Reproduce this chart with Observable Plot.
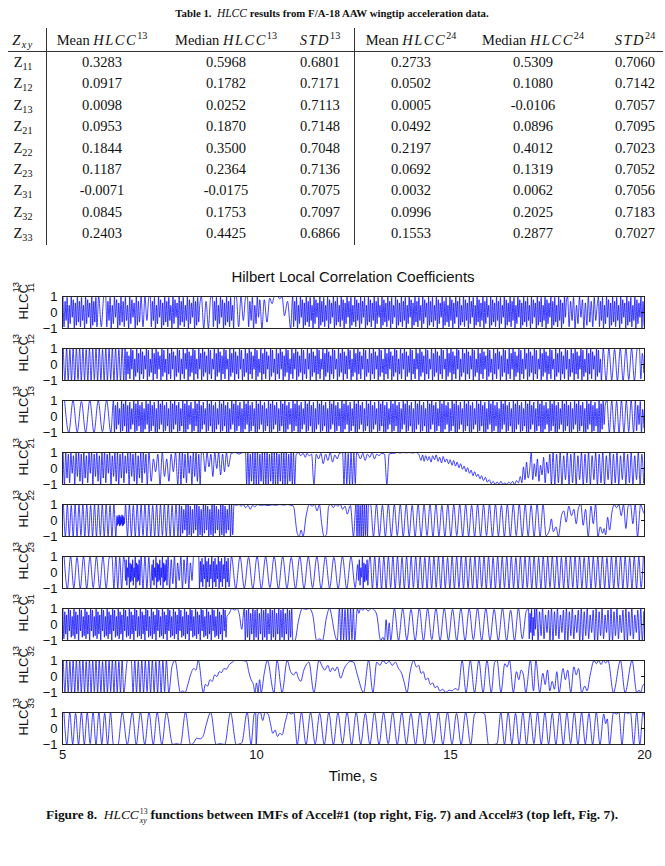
<!DOCTYPE html>
<html>
<head>
<meta charset="utf-8">
<script src="https://cdn.jsdelivr.net/npm/d3@7"></script>
<script src="https://cdn.jsdelivr.net/npm/@observablehq/plot@0.6"></script>
<style>
  body { margin: 0; background: #fff; }
  #page { position: relative; width: 665px; height: 866px; overflow: hidden; background: #fff; color: #111; font-family: "Liberation Serif", "Times New Roman", serif; }
  .abs { position: absolute; white-space: nowrap; }
  .c { transform: translate(-50%, -50%); }
  .cell { font-size: 14.5px; }
  .cell i { letter-spacing: 1.5px; }
  .rule { position: absolute; background: #333; }
  sup, sub { font-size: 70%; line-height: 0; letter-spacing: 0; }
  .cap { font-weight: bold; }
  .cap i { font-weight: normal; }
  .ss { display: inline-flex; flex-direction: column; vertical-align: middle; font-size: 0.58em; line-height: 1.2em; font-weight: normal; margin: 0 3px 0 1px; }
  .sans { font-family: "Liberation Sans", Arial, sans-serif; }
  #chart { position: absolute; left: 0; top: 262px; }
</style>
</head>
<body>
<div id="page">
  <div class="abs c cap" style="left:332px;top:13px;font-size:10.8px">Table 1.&nbsp; <i style="font-size:11.5px">HLCC</i> results from F/A-18 AAW wingtip acceleration data.</div>
  <div class="abs c sans" style="left:353px;top:276px;font-size:15px">Hilbert Local Correlation Coefficients</div>
  <div id="chart"></div>
  <div class="abs c sans" style="left:353px;top:775px;font-size:15px">Time, s</div>
  <div class="abs c cap" style="left:332px;top:816px;font-size:13.4px">Figure 8.&nbsp; <i>HLCC</i><span class="ss"><span>13</span><span><i>xy</i></span></span>functions between IMFs of Accel#1 (top right, Fig. 7) and Accel#3 (top left, Fig. 7).</div>
</div>
<script>
// ---- Table 1 values ----
const rowLabels = ["11", "12", "13", "21", "22", "23", "31", "32", "33"];
const mean13   = [0.3283, 0.0917, 0.0098, 0.0953, 0.1844, 0.1187, -0.0071, 0.0845, 0.2403];
const median13 = [0.5968, 0.1782, 0.0252, 0.1870, 0.3500, 0.2364, -0.0175, 0.1753, 0.4425];
const std13    = [0.6801, 0.7171, 0.7113, 0.7148, 0.7048, 0.7136, 0.7075, 0.7097, 0.6866];
const mean24   = [0.2733, 0.0502, 0.0005, 0.0492, 0.2197, 0.0692, 0.0032, 0.0996, 0.1553];
const median24 = [0.5309, 0.1080, -0.0106, 0.0896, 0.4012, 0.1319, 0.0062, 0.2025, 0.2877];
const std24    = [0.7060, 0.7142, 0.7057, 0.7095, 0.7023, 0.7052, 0.7056, 0.7183, 0.7027];
const headers = ["<i>Z</i><sub><i>xy</i></sub>", "Mean <i>HLCC</i><sup>13</sup>", "Median <i>HLCC</i><sup>13</sup>",
                 "<i>STD</i><sup>13</sup>", "Mean <i>HLCC</i><sup>24</sup>", "Median <i>HLCC</i><sup>24</sup>", "<i>STD</i><sup>24</sup>"];

// ---- HLCC^13 series ----
// Each panel is a list of pieces, in time order:
//   [t0, t1, swings per second, peak levels, trough levels]  – a stretch of oscillation
//   [[t, v], ...]                                            – individual turning points
const hiFull = [1, 1, 0.95, 1, 0.98];
const loFull = [-1, -0.97, -1, -1, -0.95];
const hiMix = [1, 0.7, 0.95, 0.45, 1, 0.8, 0.6];
const loMix = [-0.9, -0.5, -1, -0.7, -0.3, -1, -0.8, -0.6];
const hiBlob = [0.5, 0.8, 0.3, 1, 0.6];
const loBlob = [-0.5, -0.8, -0.3, -1, -0.6];

const hlcc11 = [
  [5.00, 5.90, 19, hiMix, loMix],
  [5.90, 6.10, 7, hiFull, loMix],
  [6.10, 7.00, 18, hiMix, loMix],
  [7.00, 7.25, 9, hiFull, loMix],
  [7.25, 8.55, 19, hiMix, loMix],
  [8.55, 8.85, 9, hiMix, loFull],
  [8.85, 9.45, 19, hiMix, loMix],
  [9.45, 9.75, 8, hiFull, loMix],
  [9.75, 10.10, 16, hiMix, loMix],
  [[10.14, -1], [10.2, 0.8], [10.27, -0.6], [10.34, 0.9], [10.4, 0.55], [10.46, 1], [10.55, 1], [10.6, 0.85], [10.66, 1], [10.72, -0.2], [10.8, 0.7], [10.88, -1]],
  [10.92, 18.0, 20, hiMix, loMix],
  [18.0, 18.8, 13, hiMix, loMix],
  [18.8, 20.0, 19, hiMix, loMix]
];
const hlcc12 = [
  [5.00, 6.60, 12, hiFull, loFull],
  [6.60, 18.90, 20, [1, 0.8, 0.55, 1, 0.9, 0.35, 1, 0.7], [-1, -0.6, -0.9, -0.3, -1, -0.75, -0.5]],
  [18.90, 19.85, 7, hiFull, loFull],
  [19.85, 20.0, 14, hiMix, loMix]
];
const hlcc13 = [
  [5.00, 6.30, 4.5, hiFull, loFull],
  [6.30, 19.00, 19, [1, 0.7, 0.9, 0.5, 1, 0.8], [-1, -0.8, -0.5, -1, -0.9, -0.6, -1]],
  [19.00, 19.75, 8, hiFull, loFull],
  [19.75, 20.0, 16, hiMix, loMix]
];
const hlcc21 = [
  [5.00, 7.20, 15, [1, 1, 0.9, 1, 0.8], [-1, -0.6, -0.9, -0.3, -1, -0.5, -0.8]],
  [7.20, 8.00, 9, [1, 0.6, 0.9], [-0.8, -0.2, -1, -0.5]],
  [8.00, 8.60, 14, [1, 1, 0.9, 1, 0.8], [-1, -0.6, -0.9, -0.3, -1, -0.5, -0.8]],
  [8.60, 9.30, 10, [1, 1, 0.9], [-0.2, 0.1, -0.5, 0, -0.4]],
  [[9.35, 0.95], [9.45, 1], [9.55, 0.9], [9.65, 1]],
  [9.70, 11.00, 16, [1, 1, 0.9, 1], [-1, -1, -0.8, -1]],
  [[11.02, 0.85], [11.08, 1], [11.14, 0.8], [11.2, 0.95], [11.26, 0.7], [11.3, 0.95], [11.36, 0.8], [11.42, 0.9], [11.48, -1], [11.54, 0.9], [11.6, 0.6], [11.66, 0.95], [11.72, 0.3], [11.78, 0.9], [11.84, 0.5], [11.9, 1], [11.96, 0.4], [12.02, 0.85], [12.08, 0.6], [12.14, 0.95]],
  [12.20, 12.60, 14, hiFull, loFull],
  [[12.62, 0.9], [12.68, 0.6], [12.74, 0.95], [12.8, 0.5], [12.86, 0.9], [12.92, 0.7], [12.98, 1], [13.04, 0.6], [13.1, 0.9], [13.16, 0.8], [13.22, 0.95], [13.3, 0.9], [13.36, -1], [13.42, 0.9], [13.5, 0.95],
   [13.55, 0.95], [13.62, 1], [13.7, 0.97], [13.78, 1], [13.86, 0.98], [13.94, 1], [14.02, 0.97], [14.1, 1], [14.18, 0.9],
   [14.24, 0.5], [14.28, 0.85], [14.32, 0.45], [14.36, 0.8], [14.41, 0.5], [14.45, 0.75], [14.5, 0.4], [14.54, 0.8], [14.59, 0.55], [14.63, 0.85], [14.68, 0.45], [14.72, 0.7], [14.77, 0.35], [14.81, 0.75], [14.86, 0.4], [14.9, 0.6], [14.95, 0.3], [14.99, 0.55], [15.04, 0.2], [15.08, 0.5],
   [15.13, 0.15], [15.17, 0.4], [15.22, 0.05], [15.26, 0.3], [15.31, -0.05], [15.35, 0.15], [15.4, -0.2], [15.44, 0.05], [15.49, -0.3], [15.53, -0.1], [15.58, -0.45], [15.62, -0.2], [15.67, -0.5], [15.71, -0.35], [15.76, -0.65], [15.8, -0.45], [15.85, -0.75], [15.9, -0.55],
   [15.95, -0.85], [16.0, -0.7], [16.05, -0.95], [16.1, -0.8], [16.15, -1], [16.2, -0.85], [16.25, -0.95], [16.3, -0.8], [16.35, -1], [16.4, -0.9], [16.45, -1], [16.5, -0.85], [16.55, -0.95], [16.6, -0.8], [16.65, -1], [16.7, -0.75], [16.75, -0.9],
   [16.8, -0.5], [16.84, -0.9], [16.88, 0.1], [16.92, -0.7], [16.96, 0.4], [17.0, -0.6], [17.04, -0.1], [17.08, 1], [17.12, -0.7], [17.16, 0.3], [17.2, -0.5], [17.24, 0.6], [17.28, -0.8], [17.32, 0.2], [17.36, -0.4], [17.4, 0.7], [17.44, -0.9], [17.48, 0.4], [17.52, -0.3], [17.56, 0.9], [17.6, -1]],
  [17.62, 20.0, 11, [1, 0.9, 1, 0.8], [-1, -0.9, -1, -0.7]]
];
const hlcc22 = [
  [5.00, 6.40, 10, hiFull, loFull],
  [6.40, 6.60, 40, [0.3, 0.2, 0.35], [-0.3, -0.2, -0.35]],
  [6.60, 8.00, 10, hiFull, loFull],
  [8.00, 9.40, 18, [1, 0.9, 0.7, 1], [-1, -0.8, -0.6, -1, -0.9]],
  [[9.42, 1], [9.48, 0.95], [9.55, 1], [9.6, 0.9], [9.66, 1], [9.72, 0.8], [9.78, 0.95], [9.84, 0.7], [9.9, 0.95], [9.96, 0.85], [10.02, 1], [10.1, 0.95], [10.2, 0.97], [10.3, 0.93], [10.4, 0.98], [10.5, 0.95], [10.6, 1], [10.7, 0.96], [10.8, 1], [10.88, 0.95], [10.95, 0.9],
   [11.05, -0.8], [11.1, -1], [11.15, -0.6], [11.2, -1], [11.28, 0.3], [11.36, 1], [11.44, 0.9], [11.5, 1], [11.56, 0.6], [11.62, 1], [11.68, -0.2], [11.74, -1], [11.8, -0.9], [11.86, 0.9], [11.92, 1], [11.98, 0.8], [12.04, 1], [12.1, 0.9], [12.16, 1], [12.22, 0.7], [12.28, 0.9], [12.34, 0.4], [12.42, 0.95], [12.5, -1]],
  [12.55, 12.90, 18, hiFull, loFull],
  [12.90, 17.50, 6.5, hiFull, loFull],
  [[17.55, -0.6], [17.6, 0.1], [17.65, -0.7], [17.72, -0.4], [17.78, -1], [17.86, 0.3], [17.92, 0.6], [17.98, -0.1], [18.05, 0.9], [18.12, 0.3], [18.18, 0.7], [18.24, -0.2], [18.3, 0.8], [18.36, 1], [18.42, -0.3], [18.48, 0.7], [18.55, -1], [18.62, 0.9], [18.68, -0.2], [18.74, 1], [18.8, -1], [18.86, -0.4], [18.92, -0.8], [18.96, -0.5], [19.0, -0.9], [19.05, 0.2], [19.1, -0.6], [19.16, 0.5], [19.22, 1], [19.28, 0.8], [19.34, 1], [19.4, 0.3], [19.46, 1], [19.52, -0.5], [19.58, 0.9], [19.64, 1], [19.7, -0.2], [19.76, 1], [19.82, -1], [19.9, 1], [19.96, 0.6], [20, 0.4]]
];
const hlcc23 = [
  [5.00, 6.25, 6, hiFull, loFull],
  [6.25, 6.60, 10, hiFull, loFull],
  [6.60, 7.00, 30, hiBlob, loBlob],
  [7.00, 7.30, 10, hiFull, loFull],
  [7.30, 7.70, 30, hiBlob, loBlob],
  [7.70, 8.40, 12, [1, 0.8, 1, 0.6], [-1, -0.7, -1, -0.5]],
  [8.40, 8.50, 5, hiFull, loFull],
  [8.50, 9.30, 24, [1, 0.7, 0.9, 0.5], [-1, -0.6, -0.9, -0.4]],
  [9.30, 12.60, 4.5, hiFull, loFull],
  [12.60, 12.90, 25, hiBlob, loBlob],
  [12.90, 20.0, 8.5, hiFull, loFull]
];
const hlcc31 = [
  [5.00, 9.25, 21, [1, 0.8, 0.6, 1, 0.9, 0.5], [-0.9, -0.6, -1, -0.4, -0.8, -0.7]],
  [[9.30, 0.7], [9.36, 1], [9.44, 0.9], [9.5, 1], [9.56, 0.6], [9.62, -0.3]],
  [9.67, 10.95, 18, [1, 0.9, 1, 0.7], [-1, -0.8, -1, -0.6]],
  [[10.99, -1], [11.08, 0.2], [11.18, 1], [11.28, 0.95], [11.36, 1], [11.45, 0.6], [11.55, -1], [11.62, -0.9], [11.7, -1], [11.8, 0.4], [11.88, 1], [11.96, 0.2], [12.0, -0.4], [12.08, -1]],
  [12.12, 12.55, 14, hiFull, loFull],
  [[12.6, 1], [12.64, 0.7], [12.68, 1], [12.74, 0.9], [12.8, 1], [12.88, 0.85], [12.96, 1], [13.04, 0.9], [13.1, 0.6], [13.2, -1], [13.26, -0.8], [13.3, -1], [13.34, 0.3], [13.38, -1], [13.42, 0.1], [13.46, -1]],
  [13.50, 16.50, 4.65, hiFull, loFull],
  [16.50, 17.00, 5, [0.9, 1, 0.8], [-1, -0.9]],
  [17.00, 17.20, 25, hiMix, loMix],
  [17.20, 20.0, 13, [1, 0.8, 1, 0.6, 0.9], [-1, -0.7, -0.9, -0.5, -1]]
];
const hlcc32 = [
  [5.00, 6.60, 12, hiFull, loFull],
  [6.60, 6.75, 4, hiFull, loFull],
  [6.75, 7.70, 11, hiFull, loFull],
  [[7.74, -1], [7.82, 0.6], [7.9, 1], [8.04, -1], [8.1, -0.9], [8.16, -1], [8.22, -0.6], [8.3, 0.1], [8.38, 0.5], [8.44, 0.4], [8.5, 1], [8.63, -1], [8.68, -0.5], [8.74, -0.6], [8.8, -0.2], [8.86, -0.3], [8.92, 0.1], [8.98, 0], [9.04, 0.3], [9.1, 0.25], [9.16, 0.5], [9.22, 0.45], [9.3, 0.75], [9.38, 0.9], [9.44, 1], [9.6, 1], [9.74, 0.95], [9.8, 0.3], [9.86, -0.2], [9.92, -0.5], [9.96, -1], [10.0, -0.4], [10.04, -1], [10.08, -0.2], [10.12, -1], [10.2, 0.2], [10.28, 1], [10.45, -1], [10.53, 1], [10.66, -1], [10.79, 1], [10.88, 0.3], [10.96, 0.1], [11.02, 0.3], [11.08, -0.1], [11.14, -0.3], [11.22, 0.4], [11.3, 0.8], [11.35, 0.9], [11.48, -1], [11.61, 1], [11.7, 0.6], [11.76, 0.4], [11.84, 0.7], [11.9, 0.3], [11.96, 0.55], [12.02, 0.35], [12.08, 0.6], [12.17, -0.1], [12.26, 0.5], [12.34, 0.8], [12.42, 0.95], [12.5, 0.9], [12.6, 0.1],
   [12.76, -1], [12.89, 1], [13.0, -1], [13.1, 0.9], [13.18, 0.7], [13.26, 1], [13.34, 0.8], [13.42, 0.95], [13.5, 0.7], [13.58, 0.9], [13.66, 0.5], [13.74, 0.2], [13.8, -0.3], [13.88, -1], [13.96, 0.3], [14.05, 1], [14.12, 0.6], [14.18, 0.7], [14.24, 0.2], [14.3, 0.3], [14.36, -0.2], [14.42, -0.1], [14.48, -0.5], [14.54, -0.4], [14.6, -0.7], [14.66, -0.6], [14.72, -0.9], [14.8, -0.8], [14.88, -1], [14.96, -0.85], [15.04, -0.9], [15.12, -0.75], [15.2, -0.85], [15.3, 1],
   [15.4, -1], [15.51, 1], [15.62, -1], [15.73, 1], [15.84, -1], [15.94, 1], [16.05, -1], [16.14, 0.9], [16.2, 1], [16.3, -1], [16.4, 0.8], [16.46, 0.6], [16.52, 1], [16.62, -1], [16.7, 0.3], [16.76, -0.2], [16.82, 0.4], [16.88, 0.1], [16.94, -1], [17.06, 1], [17.14, -0.9], [17.2, 1], [17.3, -1], [17.38, 0.2], [17.44, -0.5], [17.5, 0.4], [17.56, -0.9], [17.62, -0.3], [17.68, -0.8], [17.74, 0.3], [17.8, -1], [17.9, 0.5], [17.96, -0.2], [18.02, 0.4], [18.1, -1], [18.18, 0.6], [18.24, 0.1], [18.3, 0.5], [18.38, -1], [18.46, -0.6], [18.52, -0.9], [18.6, 0.1], [18.7, 1], [18.76, 0.8], [18.82, 1], [18.88, 0.75], [18.94, 1], [19.0, 0.85], [19.06, 1], [19.2, -1], [19.38, 1], [19.5, -1], [19.68, 1], [19.8, -1], [19.86, -0.85], [19.9, -1], [19.95, -0.6], [20.0, -0.45]]
];
const hlcc33 = [
  [5.00, 6.35, 6.5, hiFull, loFull],
  [[6.43, -1], [6.54, 1], [6.67, -1], [6.8, 1], [6.9, -1], [7.01, 1], [7.12, -1], [7.23, 1], [7.34, -1], [7.44, 1], [7.56, -1], [7.68, 1], [7.84, -1], [7.94, -0.95], [8.04, -1], [8.17, 1], [8.3, -1], [8.38, -0.9], [8.46, -0.6], [8.54, -0.65], [8.62, -0.5], [8.7, 0.2], [8.82, 1], [8.96, -1], [9.06, -0.95], [9.18, -1], [9.33, 1], [9.48, -1], [9.62, -0.9], [9.76, 1], [9.86, -1], [9.94, 0.9], [9.98, 1], [9.99, -1], [10.04, 0.9], [10.1, 1], [10.16, 0.5], [10.22, 1], [10.3, 0.9], [10.36, 0.3], [10.42, -0.3], [10.48, -0.1], [10.54, -0.5], [10.6, -0.3], [10.66, -0.4], [10.74, 0.4], [10.82, 1], [10.9, 0.9], [10.96, 1], [11.05, -1]],
  [11.10, 15.45, 4.2, hiFull, loFull],
  [[15.52, -1], [15.62, 0.9], [15.68, 1], [15.8, 1], [15.88, 0.9], [15.98, -1], [16.1, -1], [16.2, -0.95]],
  [16.25, 18.90, 5.3, hiFull, loFull],
  [[18.95, 0.9], [19.0, 0.3], [19.04, 0.6], [19.1, -1], [19.2, 1], [19.28, 0.9], [19.34, 1], [19.42, -1], [19.5, 1], [19.58, 0.95], [19.64, 1], [19.72, -1], [19.8, 1], [19.88, -1], [19.96, 1], [20, 0.6]]
];

const panelKeys = ["11", "12", "13", "21", "22", "23", "31", "32", "33"];
const panelPieces = [hlcc11, hlcc12, hlcc13, hlcc21, hlcc22, hlcc23, hlcc31, hlcc32, hlcc33];

// Expand the pieces into turning points {panel, t, v}.
function turningPoints(panel, pieces) {
  const out = [];
  for (const p of pieces) {
    if (Array.isArray(p[0])) {
      for (const [t, v] of p) out.push({panel, t, v});
    } else {
      const [t0, t1, f, hi, lo] = p;
      const n = Math.max(1, Math.round((t1 - t0) * f * 2));
      for (let k = 0; k < n; k++) {
        const t = t0 + (k + 0.5) * (t1 - t0) / n;
        const j = k >> 1;
        const v = k % 2 === 0 ? hi[j % hi.length] : lo[j % lo.length];
        out.push({panel, t, v});
      }
    }
  }
  return out;
}
const series = panelKeys.flatMap((k, i) => turningPoints(k, panelPieces[i]));
const labelRows = panelKeys.map(k => ({panel: k, sup: "13", sub: k}));

// ---- table ----
const page = document.getElementById("page");
const colX = [23, 102, 226, 320, 411, 533, 635];
const headerY = 40, rowY0 = 62, rowStep = 21.4;
function put(html, x, y, cls) {
  const d = document.createElement("div");
  d.className = "abs c " + cls;
  d.style.left = x + "px"; d.style.top = y + "px";
  d.innerHTML = html;
  page.appendChild(d);
}
headers.forEach((h, j) => put(h, colX[j], headerY, "cell"));
const cols = [mean13, median13, std13, mean24, median24, std24];
rowLabels.forEach((r, i) => {
  const y = rowY0 + i * rowStep;
  put("Z<sub>" + r + "</sub>", colX[0], y, "cell");
  cols.forEach((c, j) => put(c[i].toFixed(4), colX[j + 1], y, "cell"));
});
function rule(x, y, w, h) {
  const d = document.createElement("div");
  d.className = "rule";
  Object.assign(d.style, {left: x + "px", top: y + "px", width: w + "px", height: h + "px"});
  page.appendChild(d);
}
rule(8, 51, 655, 1);
rule(46, 28, 1, 217);
rule(354, 28, 1, 217);

// ---- chart ----
const intFormat = d => (d < 0 ? "\u2212" + (-d) : String(d));
const chart = Plot.plot({
  width: 665,
  height: 540,
  marginLeft: 62,
  marginRight: 21,
  marginTop: 31,
  marginBottom: 55,
  style: {fontFamily: "'Liberation Sans', Arial, sans-serif", fontSize: "13px", color: "#111", background: "transparent"},
  x: {domain: [5, 20]},
  y: {domain: [-1, 1]},
  fy: {domain: panelKeys, axis: null, paddingInner: 0.383, paddingOuter: 0},
  marks: [
    Plot.line(series, {x: "t", y: "v", fy: "panel", stroke: "#0000ff", strokeWidth: 0.75, curve: "monotone-x"}),
    Plot.frame({stroke: "#222", strokeWidth: 1}),
    Plot.axisY({ticks: [-1, 0, 1], tickSize: 0, tickPadding: 5, fontSize: 13, tickFormat: intFormat, label: null}),
    Plot.axisY({anchor: "right", ticks: [0], tickSize: -4, tickFormat: () => "", label: null}),
    Plot.axisX({ticks: [5, 10, 15, 20], tickSize: 0, tickPadding: 5, fontSize: 13, label: null}),
    Plot.text(labelRows, {fy: "panel", frameAnchor: "left", text: () => "HLCC", rotate: -90, dx: -39, dy: 7, fontSize: 13}),
    Plot.text(labelRows, {fy: "panel", frameAnchor: "left", text: "sup", rotate: -90, dx: -47, dy: -20, fontSize: 9.5}),
    Plot.text(labelRows, {fy: "panel", frameAnchor: "left", text: "sub", rotate: -90, dx: -32, dy: -20, fontSize: 9.5})
  ]
});
document.getElementById("chart").appendChild(chart);
</script>
</body>
</html>
